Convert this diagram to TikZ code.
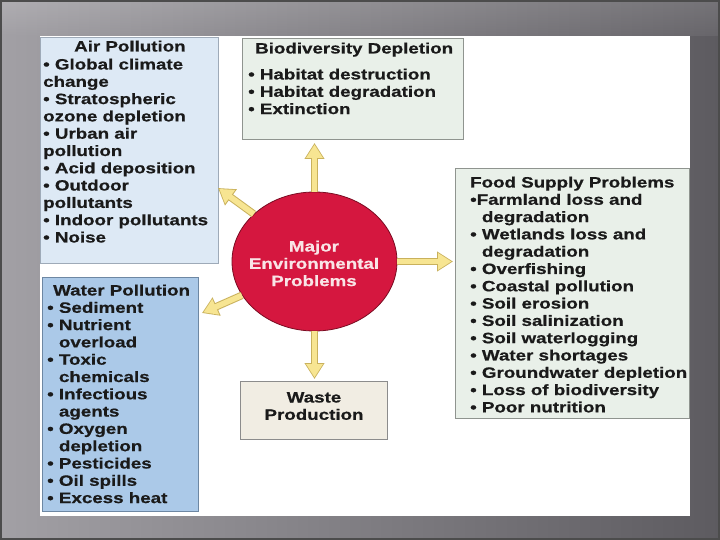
\documentclass[tikz,border=0pt]{standalone}
\usepackage{fontspec}
\newfontfamily\dfont{Liberation Sans}[FakeStretch=1.25, BoldFeatures={FakeBold=0.6}]
\usetikzlibrary{shapes.geometric,arrows.meta}
\definecolor{bgl}{HTML}{A2A0A5}
\definecolor{bgr}{HTML}{5D5B60}
\definecolor{airfill}{HTML}{DDE9F5}
\definecolor{airedge}{HTML}{9EAAB8}
\definecolor{biofill}{HTML}{E9F0E9}
\definecolor{bioedge}{HTML}{8F948F}
\definecolor{waterfill}{HTML}{ABC9E8}
\definecolor{wateredge}{HTML}{6D87A3}
\definecolor{wastefill}{HTML}{F1EDE3}
\definecolor{greyedge}{HTML}{8C8C8C}
\definecolor{mepred}{HTML}{D5173F}
\definecolor{mepedge}{HTML}{7A0C22}
\definecolor{arrfill}{HTML}{F7E592}
\definecolor{arredge}{HTML}{C9B15C}
\definecolor{meptext}{HTML}{F9E4E6}
\definecolor{ink}{HTML}{1A1A1A}
\newcommand\ind{\hphantom{•}\ }
\tikzset{
  panelbox/.style={draw, line width=1.1pt, anchor=north west, inner sep=0pt},
  txt/.style={inner sep=0pt, anchor=base west, text=ink,
    font=\dfont\bfseries\fontsize{15}{17.3}\selectfont},
  ctxt/.style={txt, anchor=base},
  arrout/.style={draw=arredge, line width=7.5pt, -{Triangle[length=16pt,width=19pt]}},
  arrin/.style={draw=arrfill, line width=5.5pt, shorten >=1.6pt, -{Triangle[length=13.4pt,width=16pt]}},
}
\newcommand\blk[1]{\parbox[t]{260pt}{\raggedright #1}}
\begin{document}
\begin{tikzpicture}[x=1pt,y=-1pt]
\useasboundingbox (0,0) rectangle (720,540);
% backdrop
\shade[left color=bgl, right color=bgr] (0,0) rectangle (720,540);
\shade[top color=white, bottom color=bgl, opacity=0.15] (0,0) rectangle (720,36);
\draw[line width=2pt, black!70] (1,1) rectangle (719,539);
\fill[white] (40,36) rectangle (690,516);
% boxes
\node[panelbox, draw=airedge, fill=airfill, minimum width=178pt, minimum height=226pt] (air) at (40,37) {};
\node[panelbox, draw=bioedge, fill=biofill, minimum width=221pt, minimum height=101pt] (bio) at (242,38) {};
\node[panelbox, draw=bioedge, fill=biofill, minimum width=234pt, minimum height=250pt] (food) at (455,168) {};
\node[panelbox, draw=wateredge, fill=waterfill, minimum width=156pt, minimum height=234pt] (water) at (42,277) {};
\node[panelbox, draw=greyedge, fill=wastefill, minimum width=147pt, minimum height=58pt] (waste) at (240,381) {};
% texts
\node[txt] (airtitle) at (74,51.5) {Air Pollution};
\node[txt] (airlist) at (43,69.5) {\blk{• Global climate\\change\\• Stratospheric\\ozone depletion\\• Urban air\\pollution\\• Acid deposition\\• Outdoor\\pollutants\\• Indoor pollutants\\• Noise}};
\node[txt] (biotitle) at (255,53.5) {Biodiversity Depletion};
\node[txt] (biolist) at (248,79.5) {\blk{• Habitat destruction\\• Habitat degradation\\• Extinction}};
\node[txt] (foodlist) at (470,187.5) {\blk{Food Supply Problems\\•Farmland loss and\\\ind degradation\\• Wetlands loss and\\\ind degradation\\• Overfishing\\• Coastal pollution\\• Soil erosion\\• Soil salinization\\• Soil waterlogging\\• Water shortages\\• Groundwater depletion\\• Loss of biodiversity\\• Poor nutrition}};
\node[txt] (waterlist) at (47,295.5) {\blk{\hspace*{6pt}Water Pollution\\• Sediment\\• Nutrient\\\ind overload\\• Toxic\\\ind chemicals\\• Infectious\\\ind agents\\• Oxygen\\\ind depletion\\• Pesticides\\• Oil spills\\• Excess heat}};
\node[ctxt] (wastetxt) at (314,402.5) {\parbox[t]{140pt}{\centering Waste\\Production}};
% central ellipse
\node[ellipse, draw=mepedge, line width=0.8pt, fill=mepred, minimum width=165pt, minimum height=139pt, inner sep=0pt] (mep) at (314.5,261.5) {};
\node[ctxt, text=meptext] (meptxt) at (314,251.5) {\parbox[t]{160pt}{\centering Major\\Environmental\\Problems}};
% arrows
\coordinate (tup) at (314.5,143);
\coordinate (tright) at (453,261.5);
\coordinate (tdown) at (314.5,379);
\coordinate (tul) at (218,188);
\coordinate (tll) at (202,313);
\foreach \a/\t in {90/tup, 0/tright, 270/tdown, 142/tul, 205/tll}{
  \draw[arrout] (mep.\a) -- (\t);
  \draw[arrin] (mep.\a) -- (\t);
}
\end{tikzpicture}
\end{document}
